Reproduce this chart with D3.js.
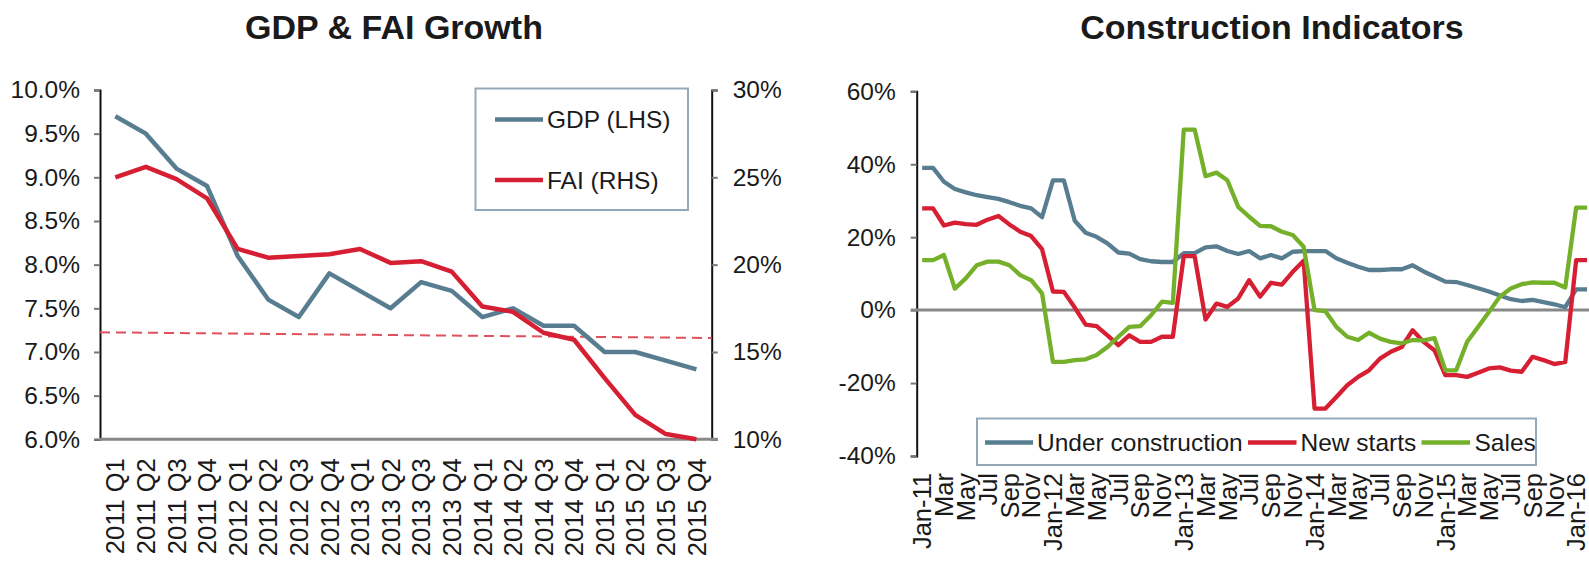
<!DOCTYPE html>
<html><head><meta charset="utf-8">
<script src="https://cdn.jsdelivr.net/npm/d3@7"></script>
<style>
body{margin:0;background:#fff;}
svg{display:block;font-family:"Liberation Sans",Arial,sans-serif;}
text{fill:#1a1a1a;}
</style></head><body>
<svg id="c" width="1589" height="561"></svg>
<script>
// ---------- Left chart data ----------
const quarters = ["2011 Q1","2011 Q2","2011 Q3","2011 Q4","2012 Q1","2012 Q2","2012 Q3","2012 Q4",
  "2013 Q1","2013 Q2","2013 Q3","2013 Q4","2014 Q1","2014 Q2","2014 Q3","2014 Q4",
  "2015 Q1","2015 Q2","2015 Q3","2015 Q4"];
const gdp = [9.7,9.5,9.1,8.9,8.1,7.6,7.4,7.9,7.7,7.5,7.8,7.7,7.4,7.5,7.3,7.3,7.0,7.0,6.9,6.8];
const fai = [25.0,25.6,24.9,23.8,20.9,20.4,20.5,20.6,20.9,20.1,20.2,19.6,17.6,17.3,16.1,15.7,13.5,11.4,10.3,10.0];
const gdpRefLine = [7.225, 7.16]; // dashed line, LHS units at left / right edge
const leftTicks = [6.0,6.5,7.0,7.5,8.0,8.5,9.0,9.5,10.0];
const rightTicks = [10,15,20,25,30];
const leftLegend = ["GDP (LHS)","FAI (RHS)"];

// ---------- Right chart data ----------
const months = ["Jan-11","Feb-11","Mar-11","Apr-11","May-11","Jun-11","Jul-11","Aug-11","Sep-11","Oct-11","Nov-11","Dec-11",
  "Jan-12","Feb-12","Mar-12","Apr-12","May-12","Jun-12","Jul-12","Aug-12","Sep-12","Oct-12","Nov-12","Dec-12",
  "Jan-13","Feb-13","Mar-13","Apr-13","May-13","Jun-13","Jul-13","Aug-13","Sep-13","Oct-13","Nov-13","Dec-13",
  "Jan-14","Feb-14","Mar-14","Apr-14","May-14","Jun-14","Jul-14","Aug-14","Sep-14","Oct-14","Nov-14","Dec-14",
  "Jan-15","Feb-15","Mar-15","Apr-15","May-15","Jun-15","Jul-15","Aug-15","Sep-15","Oct-15","Nov-15","Dec-15",
  "Jan-16","Feb-16"];
const underConstruction = [39.0,39.0,35.2,33.2,32.3,31.5,31.0,30.5,29.6,28.6,27.9,25.5,
  35.6,35.6,24.5,21.2,20.1,18.3,15.8,15.5,14.0,13.4,13.2,13.2,
  15.6,15.6,17.2,17.5,16.2,15.4,16.2,14.2,15.1,14.2,16.0,16.2,
  16.2,16.2,14.2,13.0,11.9,11.0,11.0,11.2,11.2,12.3,10.6,9.2,
  7.8,7.7,6.9,6.0,5.1,4.0,3.0,2.5,2.8,2.2,1.6,0.8,
  5.7,5.7];
const newStarts = [27.9,27.9,23.2,24.0,23.6,23.4,24.8,25.8,23.5,21.5,20.3,16.7,
  5.1,5.0,0.7,-4.0,-4.4,-6.9,-9.6,-6.9,-8.7,-8.7,-7.3,-7.3,
  14.8,14.8,-2.6,1.8,0.9,3.2,8.2,3.7,7.5,7.0,10.5,13.5,
  -27.0,-27.0,-23.8,-20.6,-18.3,-16.5,-13.3,-11.4,-10.1,-5.5,-8.7,-11.0,
  -17.8,-17.8,-18.3,-17.2,-16.0,-15.7,-16.6,-16.9,-12.8,-13.7,-14.8,-14.2,
  13.7,13.7];
const sales = [13.7,13.7,15.1,5.9,8.7,12.3,13.3,13.3,12.3,9.6,8.2,4.6,
  -14.2,-14.2,-13.7,-13.5,-12.3,-10.1,-7.3,-4.6,-4.4,-1.4,2.3,2.0,
  49.5,49.5,36.7,37.7,35.6,28.3,25.6,23.1,23.0,21.5,20.6,17.4,
  0.0,-0.3,-4.6,-7.3,-8.2,-6.2,-7.8,-8.7,-9.1,-8.2,-8.3,-7.7,
  -16.5,-16.5,-8.7,-4.6,-0.5,3.7,5.9,7.1,7.6,7.5,7.5,6.2,
  28.1,28.1];
const constTicks = [-40,-20,0,20,40,60];
const rightLegend = ["Under construction","New starts","Sales"];

const titles = ["GDP & FAI Growth","Construction Indicators"];

// ---------- styling ----------
const C_BLUE = "#587d90", C_RED = "#d61f33", C_GREEN = "#75b02a";
const FS = 24.5, FSX = 25.5, FST = 34;

const svg = d3.select("#c");
svg.append("rect").attr("width",1589).attr("height",561).attr("fill","#fff");

// ===== LEFT CHART =====
const L = {x0:100, x1:711.7, yTop:90, yBot:439.3};
const xL = d3.scaleBand().domain(quarters).range([L.x0, L.x1]);
const yL = d3.scaleLinear().domain([6,10]).range([L.yBot, L.yTop]);
const yR = d3.scaleLinear().domain([10,30]).range([L.yBot, L.yTop]);
const gL = svg.append("g");

svg.append("text").attr("x",394).attr("y",39).attr("text-anchor","middle")
  .attr("font-size",FST).attr("font-weight","bold").text(titles[0]);

// left axis
const axL = gL.append("g").attr("transform",`translate(${L.x0},0)`)
  .call(d3.axisLeft(yL).tickValues(leftTicks).tickFormat(d=>d.toFixed(1)+"%").tickSize(6).tickPadding(14));
// right axis
const axR = gL.append("g").attr("transform",`translate(${L.x1},0)`)
  .call(d3.axisRight(yR).tickValues(rightTicks).tickFormat(d=>d+"%").tickSize(6).tickPadding(15));
[axL,axR].forEach(a=>{
  a.select(".domain").attr("stroke","#111").attr("stroke-width",2);
  a.selectAll(".tick line").attr("stroke","#777").attr("stroke-width",2);
  a.selectAll(".tick text").attr("font-size",FS).attr("fill","#1a1a1a");
  a.attr("font-family",null).attr("font-size",null);
});
// bottom axis
const axB = gL.append("g").attr("transform",`translate(0,${L.yBot})`)
  .call(d3.axisBottom(xL).tickSize(0).tickPadding(0));
axB.select(".domain").remove();
axB.attr("font-family",null).attr("font-size",null);
axB.selectAll(".tick text").attr("font-size",FSX).attr("fill","#1a1a1a")
  .attr("text-anchor","end").attr("transform","translate(0,19) rotate(-90)")
  .attr("dy","0.36em").attr("y",0).attr("x",0);
gL.append("line").attr("x1",L.x0-1).attr("x2",L.x1+6).attr("y1",L.yBot).attr("y2",L.yBot)
  .attr("stroke","#888").attr("stroke-width",3);

// dashed reference line
gL.append("line").attr("x1",L.x0).attr("x2",L.x1)
  .attr("y1",yL(gdpRefLine[0])).attr("y2",yL(gdpRefLine[1]))
  .attr("stroke","#e0505e").attr("stroke-width",2).attr("stroke-dasharray","10,6");

const cx = d => xL(d) + xL.bandwidth()/2;
gL.append("path").datum(gdp).attr("fill","none").attr("stroke",C_BLUE).attr("stroke-width",4.5)
  .attr("stroke-linejoin","round")
  .attr("d", d3.line().x((d,i)=>cx(quarters[i])).y(d=>yL(d)));
gL.append("path").datum(fai).attr("fill","none").attr("stroke",C_RED).attr("stroke-width",4.5)
  .attr("stroke-linejoin","round")
  .attr("d", d3.line().x((d,i)=>cx(quarters[i])).y(d=>yR(d)));

// left legend
const lg = gL.append("g");
lg.append("rect").attr("x",475.5).attr("y",88.5).attr("width",212.5).attr("height",121.5)
  .attr("fill","#fff").attr("stroke","#94a9b7").attr("stroke-width",2);
[[C_BLUE,119.5],[C_RED,180]].forEach(([c,y],i)=>{
  lg.append("line").attr("x1",495).attr("x2",543).attr("y1",y).attr("y2",y).attr("stroke",c).attr("stroke-width",4.5);
  lg.append("text").attr("x",547).attr("y",y).attr("dy","0.36em").attr("font-size",FS).text(leftLegend[i]);
});

// ===== RIGHT CHART =====
const R = {x0:916.7, step:10.9, yTop:91.3, yBot:456};
const xC = d3.scaleBand().domain(months).range([R.x0, R.x0 + R.step*months.length]);
const yC = d3.scaleLinear().domain([-40,60]).range([R.yBot, R.yTop]);
const gR = svg.append("g");

svg.append("text").attr("x",1272).attr("y",39).attr("text-anchor","middle")
  .attr("font-size",FST).attr("font-weight","bold").text(titles[1]);

const axC = gR.append("g").attr("transform",`translate(${R.x0},0)`)
  .call(d3.axisLeft(yC).tickValues(constTicks).tickFormat(d=>String(d)+"%").tickSize(6).tickPadding(15));
axC.attr("font-family",null).attr("font-size",null);
axC.select(".domain").attr("stroke","#111").attr("stroke-width",2);
axC.selectAll(".tick line").attr("stroke","#777").attr("stroke-width",2);
axC.selectAll(".tick text").attr("font-size",FS).attr("fill","#1a1a1a");

// zero line
gR.append("line").attr("x1",R.x0-6).attr("x2",1589).attr("y1",yC(0)).attr("y2",yC(0))
  .attr("stroke","#888").attr("stroke-width",3);

// month labels
const axM = gR.append("g").attr("transform",`translate(0,${R.yBot})`)
  .call(d3.axisBottom(xC).tickValues(months.filter((m,i)=>i%2===0))
    .tickFormat(m=>m.startsWith("Jan") ? m : m.split("-")[0]).tickSize(0).tickPadding(0));
axM.select(".domain").remove();
axM.attr("font-family",null).attr("font-size",null);
axM.selectAll(".tick text").attr("font-size",FSX).attr("fill","#1a1a1a")
  .attr("text-anchor","end").attr("transform","translate(0,17) rotate(-90)")
  .attr("dy","0.36em").attr("y",0).attr("x",0);

const mx = m => xC(m) + xC.bandwidth()/2;
[[underConstruction,C_BLUE],[newStarts,C_RED],[sales,C_GREEN]].forEach(([arr,c])=>{
  gR.append("path").datum(arr).attr("fill","none").attr("stroke",c).attr("stroke-width",4.3)
    .attr("stroke-linejoin","round")
    .attr("d", d3.line().x((d,i)=>mx(months[i])).y(d=>yC(d)));
});

// right legend
const rg = gR.append("g");
rg.append("rect").attr("x",977).attr("y",418.5).attr("width",559).attr("height",46.5)
  .attr("fill","#fff").attr("stroke","#94a9b7").attr("stroke-width",2);
const legItems = [[C_BLUE,985,1033,1037],[C_RED,1248,1296.5,1300.5],[C_GREEN,1421.5,1470,1474.5]];
legItems.forEach(([c,a,b,t],i)=>{
  rg.append("line").attr("x1",a).attr("x2",b).attr("y1",442.5).attr("y2",442.5).attr("stroke",c).attr("stroke-width",4.5);
  rg.append("text").attr("x",t).attr("y",442.5).attr("dy","0.36em").attr("font-size",FS).text(rightLegend[i]);
});
</script>
</body></html>
